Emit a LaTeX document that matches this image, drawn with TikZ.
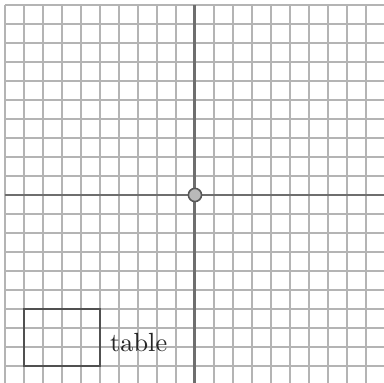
\documentclass[tikz,border=0pt]{standalone}
\usepackage{tikz}
\usetikzlibrary{positioning,fit}
\definecolor{gridgrey}{HTML}{B4B4B4}
\definecolor{axisgrey}{HTML}{6E6E6E}
\definecolor{boxgrey}{HTML}{505050}
\tikzset{
  gridline/.style={draw=gridgrey, line width=0.55pt, step=1},
  axisline/.style={draw=axisgrey, line width=1.1pt},
  originmark/.style={circle, draw=axisgrey!80!black, line width=0.6pt,
                     fill=gray!55, inner sep=0pt, minimum size=5pt},
  tblbox/.style={draw=boxgrey, line width=0.75pt, inner sep=0pt},
  tbltag/.style={font=\normalsize, text=black!85},
}

\begin{document}
\begin{tikzpicture}[x=0.254cm, y=0.254cm]
\useasboundingbox (-10.26,-9.89) rectangle (9.95,10.26);

% ---------------- grid ----------------------------------------------------
\draw[gridline] (-10,-10) grid (10,10);

% ---------------- axes ----------------------------------------------------
\coordinate (xl) at (-10,0);
\coordinate (xr) at (10,0);
\coordinate (yb) at (0,-10);
\coordinate (yt) at (0,10);
\draw[axisline] (xl) -- (xr);
\draw[axisline] (yb) -- (yt);
\node[originmark] (origin) at (0,0) {};

% ---------------- table ---------------------------------------------------
\node[tblbox, fit={(-9,-9) (-5,-6)}] (table) {};
\node[tbltag, right=0pt of table, yshift=-1.8pt] (tablelbl) {table};
\end{tikzpicture}
\end{document}
